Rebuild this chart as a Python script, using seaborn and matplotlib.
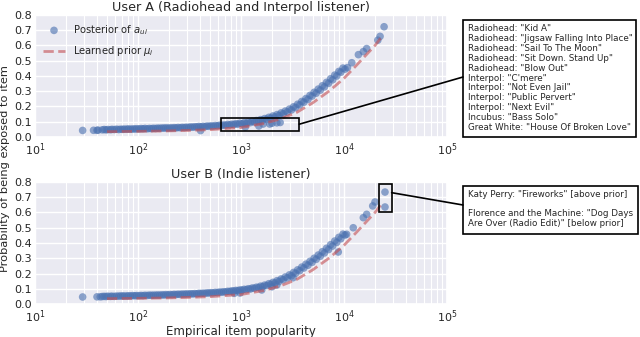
import numpy as np
import pandas as pd
import matplotlib
matplotlib.use("Agg")
import matplotlib.pyplot as plt
import seaborn as sns
from matplotlib.patches import Rectangle, ConnectionPatch

# item popularity along the dense band
band_pop = [45, 49, 54, 59, 65, 71, 78, 85, 93, 102, 112, 123, 135, 148, 162,
            178, 195, 214, 234, 257, 282, 309, 339, 372, 407, 447, 490, 537,
            589, 646, 708, 776, 851, 933, 1023, 1122, 1230, 1349, 1479, 1622,
            1778, 1950, 2138, 2344, 2570, 2818, 3090, 3388, 3715, 4074, 4467,
            4898, 5370, 5888, 6457, 7079, 7762, 8511, 9333, 10230]
band_pop_2 = [47, 51, 56, 62, 68, 74, 81, 89, 97, 107, 117, 129, 141, 155, 170,
              186, 204, 224, 245, 269, 295, 324, 355, 389, 427, 468, 513, 563,
              617, 676, 741, 813, 891, 977, 1072, 1175, 1288, 1413, 1549, 1698,
              1862, 2042, 2239, 2455, 2692, 2951, 3236, 3548, 3890, 4266, 4677,
              5129, 5623, 6166, 6761, 7413, 8128, 8913, 9772]

user_a_band = [0.047, 0.047, 0.048, 0.049, 0.049, 0.050, 0.051, 0.051, 0.052,
               0.053, 0.054, 0.054, 0.055, 0.056, 0.057, 0.058, 0.058, 0.059,
               0.060, 0.061, 0.062, 0.063, 0.064, 0.066, 0.067, 0.068, 0.070,
               0.071, 0.073, 0.075, 0.077, 0.079, 0.082, 0.084, 0.087, 0.090,
               0.094, 0.098, 0.103, 0.109, 0.116, 0.124, 0.132, 0.141, 0.152,
               0.164, 0.177, 0.193, 0.210, 0.228, 0.246, 0.268, 0.287, 0.307,
               0.329, 0.352, 0.375, 0.400, 0.425, 0.445]
user_a_band_2 = [0.049, 0.049, 0.050, 0.051, 0.051, 0.052, 0.053, 0.053, 0.054,
                 0.055, 0.056, 0.056, 0.057, 0.058, 0.059, 0.060, 0.060, 0.061,
                 0.062, 0.063, 0.064, 0.066, 0.067, 0.069, 0.070, 0.072, 0.073,
                 0.075, 0.077, 0.079, 0.082, 0.084, 0.087, 0.090, 0.094, 0.098,
                 0.103, 0.108, 0.114, 0.121, 0.129, 0.138, 0.147, 0.158, 0.170,
                 0.183, 0.198, 0.215, 0.233, 0.252, 0.273, 0.293, 0.314, 0.336,
                 0.358, 0.382, 0.406, 0.430, 0.452]

user_b_band = [0.049, 0.049, 0.050, 0.050, 0.051, 0.052, 0.052, 0.053, 0.054,
               0.055, 0.055, 0.056, 0.057, 0.058, 0.058, 0.059, 0.060, 0.061,
               0.062, 0.063, 0.064, 0.065, 0.066, 0.067, 0.069, 0.070, 0.072,
               0.073, 0.075, 0.077, 0.079, 0.082, 0.085, 0.088, 0.091, 0.094,
               0.098, 0.103, 0.108, 0.114, 0.121, 0.129, 0.138, 0.148, 0.159,
               0.171, 0.185, 0.201, 0.218, 0.236, 0.254, 0.273, 0.293, 0.313,
               0.335, 0.357, 0.380, 0.404, 0.428, 0.452]
user_b_band_2 = [0.050, 0.051, 0.051, 0.052, 0.053, 0.053, 0.054, 0.055, 0.055,
                 0.056, 0.057, 0.058, 0.058, 0.059, 0.060, 0.061, 0.062, 0.063,
                 0.064, 0.065, 0.066, 0.067, 0.068, 0.070, 0.071, 0.073, 0.074,
                 0.076, 0.078, 0.080, 0.083, 0.086, 0.089, 0.092, 0.096, 0.100,
                 0.105, 0.110, 0.117, 0.124, 0.133, 0.142, 0.153, 0.164, 0.177,
                 0.191, 0.207, 0.224, 0.242, 0.261, 0.280, 0.300, 0.321, 0.343,
                 0.365, 0.389, 0.413, 0.437, 0.458]

# sparse points at both ends and off-band items
user_a_pop = [29, 37, 40, 41, 405, 1100, 1490, 1640, 1900, 2000, 2230, 2400,
              10800, 11900, 13800, 15400, 16600, 21300, 22400, 24500]
user_a_val = [0.043, 0.044, 0.044, 0.045, 0.042, 0.065, 0.072, 0.085, 0.085,
              0.090, 0.093, 0.095, 0.455, 0.487, 0.540, 0.560, 0.580, 0.635,
              0.660, 0.723]

user_b_pop = [29, 40, 43, 860, 980, 1590, 2000, 2230, 3200, 8800, 10600,
              12300, 15400, 16600, 19000, 20000, 25000, 25000]
user_b_val = [0.046, 0.047, 0.047, 0.070, 0.072, 0.092, 0.113, 0.125, 0.172,
              0.341, 0.457, 0.500, 0.566, 0.588, 0.643, 0.669, 0.734, 0.636]

# learned prior (same items for both users)
prior_pop = [50, 100, 200, 300, 500, 1000, 1650, 2400, 3450, 5000, 7300,
             10000, 13000, 16500, 20000, 24000]
prior_val = [0.035, 0.037, 0.040, 0.043, 0.048, 0.062, 0.088, 0.118, 0.160,
             0.225, 0.305, 0.385, 0.465, 0.540, 0.600, 0.670]

box_a_lines = [
    'Radiohead: "Kid A"',
    'Radiohead: "Jigsaw Falling Into Place"',
    'Radiohead: "Sail To The Moon"',
    'Radiohead: "Sit Down. Stand Up"',
    'Radiohead: "Blow Out"',
    'Interpol: "C\'mere"',
    'Interpol: "Not Even Jail"',
    'Interpol: "Public Pervert"',
    'Interpol: "Next Evil"',
    'Incubus: "Bass Solo"',
    'Great White: "House Of Broken Love"',
]
box_b_lines = [
    'Katy Perry: "Fireworks" [above prior]',
    '',
    'Florence and the Machine: "Dog Days',
    'Are Over (Radio Edit)" [below prior]',
]

sns.set_theme(style="darkgrid")
plt.rcParams["font.family"] = ["DejaVu Sans"]

W, H = 640, 337
fig = plt.figure(figsize=(6.4, 3.37), dpi=100)


def px_rect(x0, y0, x1, y1):
    return [x0 / W, 1 - y1 / H, (x1 - x0) / W, (y1 - y0) / H]


ax1 = fig.add_axes(px_rect(35, 15, 447, 137))
ax2 = fig.add_axes(px_rect(35, 182, 447, 304))

blue = "#4C72B0"
panels = [
    (ax1, user_a_band, user_a_band_2, user_a_pop, user_a_val,
     "User A (Radiohead and Interpol listener)"),
    (ax2, user_b_band, user_b_band_2, user_b_pop, user_b_val,
     "User B (Indie listener)"),
]
prior_df = pd.DataFrame({"pop": prior_pop, "val": prior_val})

for ax, band, band2, pop, val, title in panels:
    pts = pd.DataFrame({"pop": band_pop + band_pop_2 + pop,
                        "val": band + band2 + val})
    sns.scatterplot(data=pts, x="pop", y="val", ax=ax, color=blue, alpha=0.62,
                    s=30, edgecolor="none", label=r"Posterior of $a_{ui}$")
    sns.lineplot(data=prior_df, x="pop", y="val", ax=ax, color="r", alpha=0.6,
                 lw=2, linestyle="--", estimator=None,
                 label=r"Learned prior $\mu_i$")
    ax.set_xscale("log")
    ax.set_xlim(10, 1e5)
    ax.set_ylim(0, 0.8)
    ax.set_yticks(np.arange(0, 0.81, 0.1))
    ax.grid(which="minor", axis="x", color="white", lw=0.8)
    ax.grid(which="major", color="white", lw=1.0)
    ax.tick_params(which="both", length=0, labelsize=8, pad=2)
    ax.tick_params(axis="x", pad=3)
    ax.set_title(title, fontsize=9.2, pad=3)
    ax.set_xlabel("")
    ax.set_ylabel("")
    ax.get_legend().remove()

ax1.legend(loc="upper left", frameon=False, fontsize=7.2, handlelength=2.2,
           borderaxespad=0.4, labelspacing=0.75, scatterpoints=1)
ax2.set_xlabel("Empirical item popularity", fontsize=8.5, labelpad=0)
fig.text(0.0, 0.5, "Probability of being exposed to item", rotation=90,
         va="center", ha="left", fontsize=8.2)

# highlighted regions
ax1.add_patch(Rectangle((640, 0.041), 3680 - 640, 0.127 - 0.041, fill=False,
                        ec="black", lw=1.2, zorder=5))
ax2.add_patch(Rectangle((21900, 0.603), 29000 - 21900, 0.785 - 0.603,
                        fill=False, ec="black", lw=1.2, zorder=5))

for (x0, y0, x1, y1) in [(463, 20, 636, 137), (463, 186, 638, 234)]:
    fig.add_artist(Rectangle((x0 / W, 1 - y1 / H), (x1 - x0) / W, (y1 - y0) / H,
                             transform=fig.transFigure, fill=True, fc="white",
                             ec="black", lw=1.2))

fig.text(468 / W, 1 - 24 / H, "\n".join(box_a_lines), va="top", ha="left",
         fontsize=6.3, linespacing=1.13)
fig.text(468 / W, 1 - 190 / H, "\n".join(box_b_lines), va="top", ha="left",
         fontsize=6.3, linespacing=1.1)

fig.add_artist(ConnectionPatch(xyA=(3680, 0.084), coordsA=ax1.transData,
                               xyB=(463 / W, 1 - 77 / H), coordsB=fig.transFigure,
                               color="black", lw=1.2))
fig.add_artist(ConnectionPatch(xyA=(29000, 0.73), coordsA=ax2.transData,
                               xyB=(463 / W, 1 - 205 / H), coordsB=fig.transFigure,
                               color="black", lw=1.2))

fig.savefig("out.png", dpi=100)
